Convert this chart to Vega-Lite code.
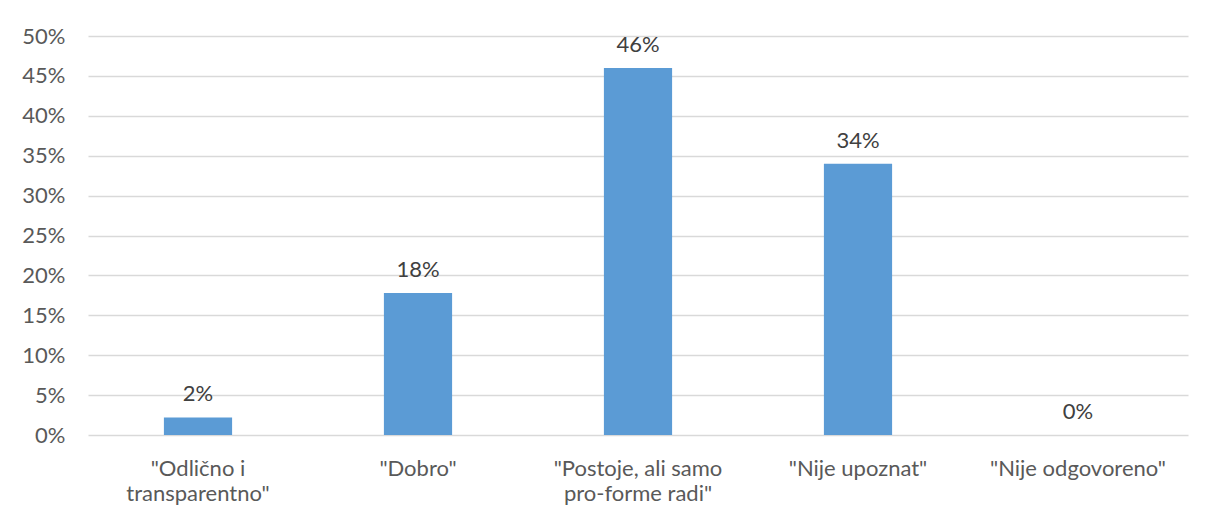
{
  "$schema": "https://vega.github.io/schema/vega-lite/v6.json",
  "autosize": {"type": "none"},
  "width": 1100,
  "height": 399,
  "padding": {"left": 88, "top": 36, "right": 24, "bottom": 88},
  "background": "white",
  "data": {
    "values": [
      {"kategorija": "\"Odlično i|transparentno\"", "udio": 0.022},
      {"kategorija": "\"Dobro\"", "udio": 0.178},
      {"kategorija": "\"Postoje, ali samo|pro-forme radi\"", "udio": 0.46},
      {"kategorija": "\"Nije upoznat\"", "udio": 0.34},
      {"kategorija": "\"Nije odgovoreno\"", "udio": 0.0}
    ]
  },
  "encoding": {
    "x": {
      "field": "kategorija",
      "type": "nominal",
      "sort": null,
      "scale": {"paddingInner": 0.69, "paddingOuter": 0.345},
      "axis": {
        "title": null,
        "labelAngle": 0,
        "labelExpr": "split(datum.value, '|')",
        "labelFont": "Lato",
        "labelFontSize": 22,
        "labelColor": "#595959",
        "labelLineHeight": 25,
        "labelPadding": 33,
        "labelBaseline": "middle",
        "ticks": false,
        "domain": false,
        "grid": false
      }
    },
    "y": {
      "field": "udio",
      "type": "quantitative",
      "scale": {"domain": [0, 0.5]},
      "axis": {
        "title": null,
        "format": ".0%",
        "values": [0, 0.05, 0.1, 0.15, 0.2, 0.25, 0.3, 0.35, 0.4, 0.45, 0.5],
        "labelOverlap": false,
        "labelFont": "Lato",
        "labelFontSize": 22,
        "labelColor": "#595959",
        "labelPadding": 23,
        "ticks": false,
        "domain": false,
        "gridColor": "#d9d9d9",
        "gridWidth": 1.5
      }
    }
  },
  "layer": [
    {"mark": {"type": "bar", "color": "#5b9bd5"}},
    {
      "mark": {"type": "text", "baseline": "alphabetic", "dy": -16, "font": "Lato", "fontSize": 22, "color": "#404040"},
      "encoding": {"text": {"field": "udio", "type": "quantitative", "format": ".0%"}}
    }
  ],
  "config": {"view": {"stroke": null}}
}
